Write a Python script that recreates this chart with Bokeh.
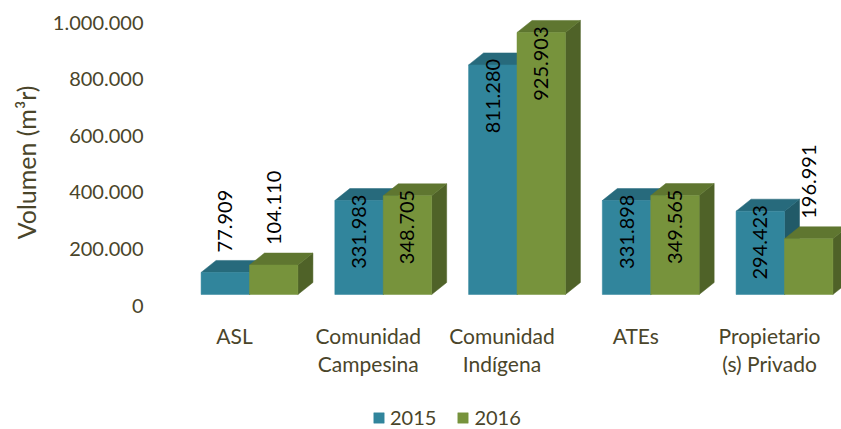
import math
from bokeh.plotting import figure
from bokeh.models import (Range1d, LinearAxis, FixedTicker, Legend, LegendItem,
                          ColumnDataSource, Title)
from bokeh.core.properties import value
from bokeh.embed import file_html
from bokeh.resources import INLINE

# ---------------- data ----------------
categories = ["ASL", "Comunidad\nCampesina", "Comunidad\nIndígena", "ATEs",
              "Propietario\n(s) Privado"]
series_names = ["2015", "2016"]
values_2015 = [77909, 331983, 811280, 331898, 294423]
values_2016 = [104110, 348705, 925903, 349565, 196991]
y_ticks = [0, 200000, 400000, 600000, 800000, 1000000]
y_tick_labels = ["0", "200.000", "400.000", "600.000", "800.000", "1.000.000"]
axis_title = "Volumen (m³r)"

# ---------------- styles ----------------
FONT = "Lato"
TEXT_COLOR = "#4A452A"
FACE = {"2015": ("#31859C", "#276A7C", "#215A68"),
        "2016": ("#77933C", "#5F7630", "#4F6228")}

# ---------------- layout (pixels) ----------------
W, H = 841, 429
FL = 150            # frame left
FH = H              # frame height (frame spans full height)
PX_PER_CAT = 133.75
CAT0_PX = 249       # x pixel of first category centre
BASE_PX = 294       # y pixel of bar base (front)
LAB0_PX = 305       # y pixel of the "0" axis label
PX_PER_UNIT = 0.283 / 1000.0
U = 1.0 / PX_PER_UNIT

x_start = (FL - CAT0_PX) / PX_PER_CAT
x_end = (W - CAT0_PX) / PX_PER_CAT
y_start = -(FH - BASE_PX) * U
y_end = BASE_PX * U
lab_start = -(FH - LAB0_PX) * U
lab_end = LAB0_PX * U
LABEL_SHIFT = 15 / PX_PER_CAT

BW = 0.362
DX = 15 / PX_PER_CAT
DY = 12 * U

p = figure(width=W, height=H, output_backend="svg", toolbar_location=None,
           x_range=Range1d(x_start, x_end), y_range=Range1d(y_start, y_end),
           x_axis_location=None, y_axis_location=None,
           min_border_left=FL, min_border_right=0, min_border_top=0,
           min_border_bottom=0)
p.outline_line_color = None
p.grid.visible = False
p.background_fill_color = "white"
p.border_fill_color = "white"

p.extra_y_ranges = {"lab": Range1d(lab_start, lab_end)}

yaxis = LinearAxis(y_range_name="lab", ticker=FixedTicker(ticks=y_ticks),
                   major_label_overrides=dict(zip(y_ticks, y_tick_labels)))
yaxis.axis_line_color = None
yaxis.major_tick_line_color = None
yaxis.minor_tick_line_color = None
yaxis.major_tick_out = 0
yaxis.major_tick_in = 0
yaxis.major_label_standoff = 7
yaxis.major_label_text_font = FONT
yaxis.major_label_text_font_size = "20px"
yaxis.major_label_text_color = TEXT_COLOR
p.add_layout(yaxis, "left")

ytitle = Title(text=axis_title, align="right", offset=85, vertical_align="top",
               standoff=14, text_font=FONT, text_font_size="25px",
               text_font_style="normal", text_color=TEXT_COLOR)
p.add_layout(ytitle, "left")


def fmt(v):
    return f"{v:,}".replace(",", ".")


front_renderers = []
for s, (name, vals) in enumerate(zip(series_names, [values_2015, values_2016])):
    front, top, side = FACE[name]
    xl = [i - BW if s == 0 else i for i in range(len(vals))]
    xr = [a + BW for a in xl]
    # side faces
    side_xs = [[b, b, b + DX, b + DX] for b in xr]
    side_ys = [[0, v, v + DY, DY] for v in vals]
    p.patches(side_xs, side_ys, fill_color=side, line_color=side, line_width=0.5)
    # top faces
    top_xs = [[a, b, b + DX, a + DX] for a, b in zip(xl, xr)]
    top_ys = [[v, v, v + DY, v + DY] for v in vals]
    p.patches(top_xs, top_ys, fill_color=top, line_color=top, line_width=0.5)
    # front faces
    src = ColumnDataSource(dict(x=[(a + b) / 2 for a, b in zip(xl, xr)], top=vals))
    r = p.vbar(x="x", width=BW, top="top", bottom=0, source=src,
               fill_color=front, line_color=front, line_width=0.5)
    front_renderers.append(r)

    # data labels
    xc = [(a + b) / 2 for a, b in zip(xl, xr)]
    ins = [(x, v + 6 * U, fmt(v)) for x, v in zip(xc, vals) if v >= 250000]
    outs = [(x, v + 20 * U, fmt(v)) for x, v in zip(xc, vals) if v < 250000]
    for group, align in ((ins, "right"), (outs, "left")):
        if not group:
            continue
        p.text(x=[g[0] for g in group], y=[g[1] for g in group],
               text=[g[2] for g in group], angle=math.pi / 2,
               text_align=align, text_baseline="middle",
               text_font=value(FONT), text_font_size="20px", text_color="black")

# category labels (below the bars)
p.text(x=[i - LABEL_SHIFT for i in range(len(categories))],
       y=[-28 * U] * len(categories), text=categories,
       text_align="center", text_baseline="top", text_line_height=1.12,
       text_font=value(FONT), text_font_size="21px", text_color=TEXT_COLOR)

legend = Legend(items=[LegendItem(label=n, renderers=[r])
                       for n, r in zip(series_names, front_renderers)],
                orientation="horizontal", location=(222, 0),
                glyph_width=13, glyph_height=13, label_standoff=5, spacing=20,
                padding=0, margin=0, border_line_color=None,
                background_fill_alpha=0)
legend.label_text_font = FONT
legend.label_text_font_size = "20px"
legend.label_text_color = TEXT_COLOR
p.add_layout(legend)

open("out.html", "w").write(file_html(p, INLINE))
